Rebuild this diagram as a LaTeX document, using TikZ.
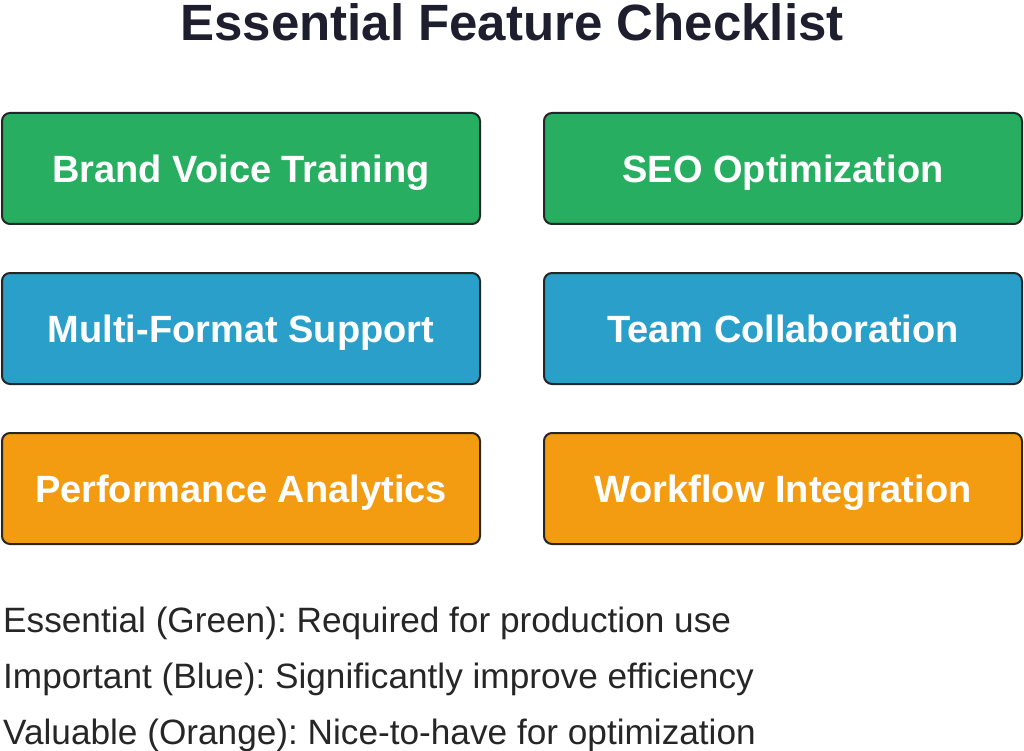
\documentclass[tikz,border=0pt]{standalone}
\usepackage{fontspec}
\setmainfont{Liberation Sans}
\begin{document}
\begin{tikzpicture}[x=1pt,y=-1pt,
  feat/.style={draw=black!85,line width=2pt,rounded corners=8pt,minimum width=478pt,minimum height=111pt,text=white,font=\fontsize{38}{44}\selectfont\bfseries,inner sep=0pt},
  lbl/.style={text=white,font=\fontsize{38}{44}\selectfont\bfseries,inner sep=0pt,anchor=base},
  leg/.style={anchor=base west,font=\fontsize{35.2}{40}\selectfont,text=black!85,inner sep=0pt}]
\definecolor{cg}{HTML}{27AE60}\definecolor{cb}{HTML}{2A9FC9}\definecolor{co}{HTML}{F39C12}\definecolor{tt}{HTML}{1E1E2E}
\useasboundingbox (0,0) rectangle (1024,751);
\node (t) at (512,22) {\fontsize{51}{56}\selectfont\bfseries\color{tt}Essential Feature Checklist};
\node[feat,fill=cg] (a) at (241,168.5) {};
\node[feat,fill=cg] (b) at (783,168.5) {};
\node[feat,fill=cb] (c) at (241,328.5) {};
\node[feat,fill=cb] (d) at (783,328.5) {};
\node[feat,fill=co] (e) at (241,488.5) {};
\node[feat,fill=co] (f) at (783,488.5) {};
\node[lbl] (ta) at ([yshift=-14]a.center) {Brand Voice Training};
\node[lbl] (tb) at ([yshift=-14]b.center) {SEO Optimization};
\node[lbl] (tc) at ([yshift=-14]c.center) {Multi-Format Support};
\node[lbl] (td) at ([yshift=-14]d.center) {Team Collaboration};
\node[lbl] (te) at ([yshift=-14]e.center) {Performance Analytics};
\node[lbl] (tf) at ([yshift=-14]f.center) {Workflow Integration};
\node[leg] (l1) at (3,632) {Essential (Green):\ Required for production use};
\node[leg] (l2) at (3,688) {Important (Blue):\ Significantly improve efficiency};
\node[leg] (l3) at (3,744) {Valuable (Orange):\ Nice-to-have for optimization};
\end{tikzpicture}
\end{document}
